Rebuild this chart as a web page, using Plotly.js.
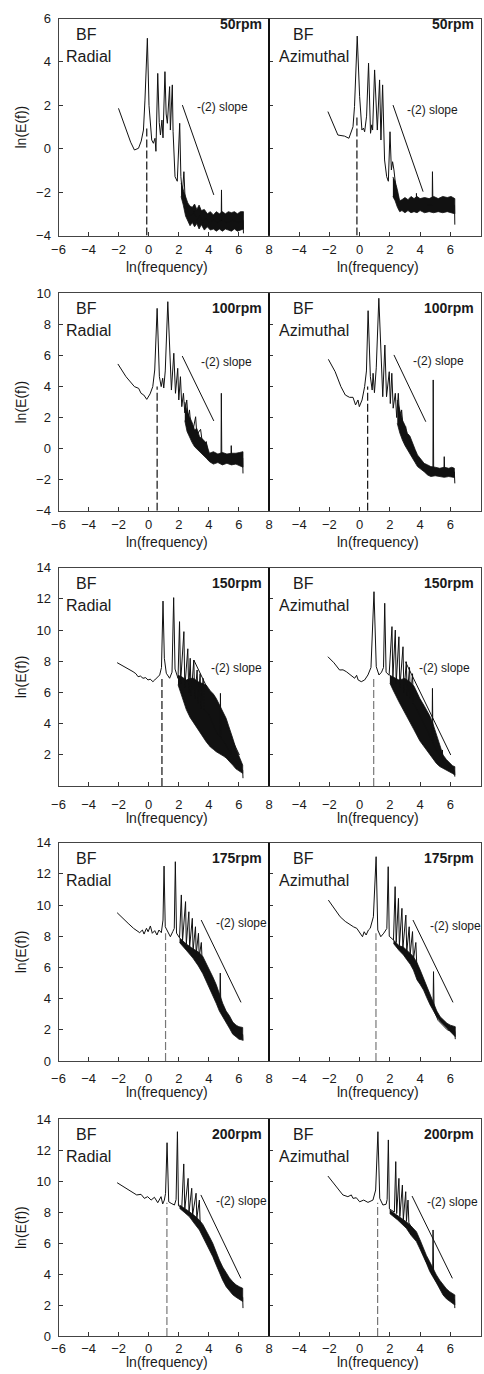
<!DOCTYPE html>
<html><head><meta charset="utf-8">
<script src="https://cdn.plot.ly/plotly-3.0.1.min.js"></script>
<style>html,body{margin:0;padding:0;background:#fff}#chart{width:484px;height:1374px}</style>
</head><body><div id="chart"></div>
<script>
// ---------------- DATA ----------------
const speeds = ['50rpm', '100rpm', '150rpm', '175rpm', '200rpm'];
const components = ['Radial', 'Azimuthal'];
const xTickVals = [-6, -4, -2, 0, 2, 4, 6, 8];
const yTickSets = [
  [-4, -2, 0, 2, 4, 6],
  [-4, -2, 0, 2, 4, 6, 8, 10],
  [2, 4, 6, 8, 10, 12, 14],
  [0, 2, 4, 6, 8, 10, 12, 14],
  [0, 2, 4, 6, 8, 10, 12, 14]
];
const yRanges = [[-4, 6], [-4, 10], [0, 14], [0, 14], [0, 14]];
const xRange = [-6, 8];

// 50 rpm radial
const rad50_x = [-2.01,-1.7,-1.46,-1.2,-0.95,-0.68,-0.5,-0.35,-0.25,-0.09,0.02,0.2,0.31,0.42,0.48,0.6,0.7,0.78,0.88,0.95,1.08,1.16,1.24,1.39,1.44,1.57,1.62,1.75,1.9,2.06,2.14,2.24,2.34,2.42,2.6,2.8,3.0,3.2,3.4,3.6,3.8,4.0,4.3,4.6,4.82,4.84,4.86,5.2,5.6,6.0,6.28,6.3];
const rad50_y = [1.86,1.25,0.71,0.3,-0.06,0.02,0.35,0.86,2.24,5.09,2.0,0.4,0.25,0.48,-0.12,3.47,1.2,0.63,1.32,0.5,3.55,1.6,1.17,2.86,0.86,2.94,0.8,-1.29,-1.5,1.17,-1.29,-2.05,-1.06,-2.3,-2.9,-3.1,-2.9,-3.3,-3.1,-3.4,-3.2,-3.4,-3.3,-3.4,-3.3,-1.9,-3.3,-3.4,-3.3,-3.4,-3.3,-3.9];
const rad50_bandX = [2.15,2.3,2.45,2.6,2.75,2.9,3.05,3.2,3.35,3.5,3.7,3.9,4.1,4.3,4.5,4.7,4.9,5.1,5.3,5.5,5.7,5.9,6.1,6.3];
const rad50_bandHi = [-1.6,-1.9,-2.3,-2.5,-2.65,-2.7,-2.55,-2.8,-2.6,-2.85,-2.8,-3.0,-2.9,-3.05,-2.9,-3.0,-2.9,-3.0,-2.9,-2.95,-2.9,-3.0,-2.9,-2.9];
const rad50_bandLo = [-2.2,-2.6,-3.1,-3.35,-3.55,-3.4,-3.6,-3.45,-3.7,-3.5,-3.75,-3.6,-3.75,-3.7,-3.8,-3.7,-3.8,-3.7,-3.75,-3.8,-3.7,-3.8,-3.75,-3.7];

// 50 rpm azimuthal
const azi50_x = [-2.1,-1.44,-1.0,-0.71,-0.44,-0.34,-0.16,0.0,0.15,0.25,0.33,0.46,0.59,0.72,0.8,0.86,0.99,1.17,1.32,1.41,1.52,1.65,1.79,1.9,2.01,2.1,2.18,2.27,2.4,2.6,2.8,3.0,3.3,3.6,3.74,3.76,3.78,4.1,4.5,4.8,4.82,4.85,5.2,5.6,6.0,6.28,6.3];
const azi50_y = [1.71,0.63,0.58,0.48,1.01,1.94,5.19,2.4,0.86,0.95,0.78,1.5,3.94,0.71,1.1,0.86,3.63,0.86,3.17,0.4,2.94,-0.52,-1.29,-1.5,0.78,-0.98,-0.6,-0.98,-1.8,-2.4,-2.7,-2.55,-2.6,-2.5,-2.6,-2.06,-2.6,-2.55,-2.6,-2.6,-1.06,-2.6,-2.55,-2.6,-2.55,-2.6,-3.5];
const azi50_bandX = [2.2,2.35,2.5,2.65,2.8,3.0,3.2,3.4,3.6,3.8,4.0,4.3,4.6,4.9,5.2,5.5,5.8,6.05,6.3];
const azi50_bandHi = [-1.3,-1.5,-1.9,-2.4,-2.35,-2.25,-2.35,-2.2,-2.3,-2.2,-2.3,-2.25,-2.3,-2.2,-2.3,-2.2,-2.25,-2.2,-2.3];
const azi50_bandLo = [-2.2,-2.4,-2.7,-2.9,-2.85,-2.95,-2.85,-2.95,-2.9,-2.95,-2.85,-2.95,-2.9,-2.95,-2.9,-2.95,-2.9,-2.95,-3.0];

// 100 rpm radial
const rad100_x = [-2.05,-1.51,-0.95,-0.67,-0.51,-0.33,-0.13,0.09,0.27,0.4,0.56,0.71,0.83,0.93,1.0,1.1,1.27,1.43,1.51,1.67,1.78,1.93,2.0,2.11,2.2,2.31,2.4,2.53,2.62,2.71,2.8,2.95,3.12,3.2,3.45,3.55,3.7,3.83,3.95,4.3,4.6,4.81,4.83,4.86,5.2,5.47,5.49,5.52,5.9,6.25,6.27];
const rad100_y = [5.45,4.63,3.99,3.88,3.56,3.45,3.17,3.52,3.99,5.06,9.03,4.63,3.99,4.53,3.9,5.0,9.46,5.06,3.77,6.14,3.56,5.17,3.13,4.63,2.7,3.56,2.3,3.13,1.9,2.49,1.5,1.2,2.05,0.9,1.24,0.5,0.3,0.45,-0.4,-0.55,-0.65,-0.6,3.56,-0.6,-0.65,-0.6,0.19,-0.6,-0.65,-0.6,-1.6];
const rad100_bandX = [2.4,2.55,2.71,2.88,3.05,3.2,3.38,3.6,3.83,4.04,4.3,4.6,4.9,5.2,5.5,5.8,6.05,6.27];
const rad100_bandHi = [3.0,2.4,2.05,1.7,1.2,1.3,0.77,0.6,0.34,-0.3,-0.2,-0.35,-0.25,-0.35,-0.3,-0.3,-0.25,-0.2];
const rad100_bandLo = [1.8,1.1,0.77,0.4,0.12,0.0,-0.2,-0.4,-0.62,-0.84,-1.0,-0.9,-1.05,-0.95,-1.05,-1.0,-1.1,-1.2];

// 100 rpm azimuthal
const azi100_x = [-2.07,-1.62,-1.24,-0.95,-0.67,-0.44,-0.27,-0.11,-0.02,0.16,0.33,0.45,0.56,0.71,0.83,0.89,0.98,1.1,1.27,1.45,1.53,1.67,1.78,1.96,2.03,2.13,2.22,2.36,2.45,2.56,2.66,2.78,2.9,3.05,3.12,3.2,3.3,3.49,3.67,3.8,4.3,4.85,4.87,4.9,5.3,5.58,5.6,5.63,6.0,6.27,6.3];
const azi100_y = [5.75,4.95,3.99,3.45,3.3,3.3,2.81,3.13,2.7,3.13,3.99,5.0,8.88,4.63,3.77,4.85,3.6,5.2,9.68,4.63,3.34,6.67,3.34,4.95,2.9,4.85,2.6,3.56,2.0,3.56,1.6,2.49,1.0,1.41,0.6,0.9,0.2,0.0,-0.3,-0.8,-1.3,-1.4,4.42,-1.4,-1.5,-1.4,-0.52,-1.4,-1.5,-1.5,-2.24];
const azi100_bandX = [2.49,2.66,2.83,3.0,3.16,3.33,3.49,3.67,3.83,4.05,4.27,4.5,4.71,5.0,5.3,5.6,5.9,6.1,6.27];
const azi100_bandHi = [3.13,2.4,1.84,1.5,0.98,0.8,0.34,-0.05,-0.41,-0.7,-0.95,-1.05,-1.16,-1.2,-1.27,-1.2,-1.27,-1.2,-1.27];
const azi100_bandLo = [1.63,1.0,0.55,0.2,-0.09,-0.35,-0.62,-0.9,-1.16,-1.35,-1.49,-1.7,-1.8,-1.75,-1.8,-1.85,-1.8,-1.85,-1.86];

// 150 rpm radial
const rad150_x = [-2.1,-1.5,-1.04,-0.85,-0.71,-0.55,-0.38,-0.2,-0.05,0.1,0.28,0.4,0.51,0.73,0.85,0.95,1.04,1.17,1.39,1.55,1.66,1.75,1.95,2.05,2.12,2.34,2.4,2.6,2.66,2.76,2.82,3.0,3.06,3.22,3.28,3.42,3.48,3.62,3.7,4.0,4.3,4.6,4.75,4.77,4.8,5.1,5.46,5.48,5.5,5.8,6.1,6.25,6.27];
const rad150_y = [7.91,7.6,7.33,7.2,7.01,7.05,6.91,6.95,6.8,6.85,6.69,6.8,6.91,7.12,7.6,11.86,8.19,7.23,6.91,7.3,12.08,7.5,6.9,10.54,6.6,9.9,6.3,8.8,6.0,8.19,5.8,8.08,5.6,7.44,5.3,7.2,5.0,6.9,4.9,4.6,3.9,3.3,3.2,5.94,3.1,2.7,2.0,2.52,1.9,1.6,1.2,1.0,0.5];
const rad150_bandX = [1.95,2.2,2.5,2.75,3.0,3.25,3.5,3.82,4.1,4.3,4.49,4.65,4.8,5.0,5.15,5.3,5.45,5.59,5.8,6.03,6.25];
const rad150_bandHi = [7.1,7.0,6.8,6.9,6.9,6.7,6.6,6.48,6.1,5.9,5.62,5.3,5.0,4.6,4.34,3.9,3.5,3.06,2.4,1.8,1.34];
const rad150_bandLo = [6.5,5.7,4.9,4.4,4.0,3.6,3.3,2.84,2.5,2.35,2.2,2.1,2.0,1.9,1.8,1.65,1.5,1.34,1.1,0.95,0.81];

// 150 rpm azimuthal
const azi150_x = [-2.1,-1.7,-1.33,-1.1,-0.88,-0.7,-0.55,-0.33,-0.2,-0.1,0.11,0.33,0.55,0.75,0.95,1.1,1.28,1.45,1.58,1.66,1.75,1.95,2.14,2.2,2.36,2.42,2.6,2.66,2.87,2.93,3.09,3.15,3.3,3.36,3.5,3.56,3.8,4.1,4.4,4.7,4.79,4.82,4.85,5.1,5.46,5.48,5.5,5.8,6.1,6.28,6.3];
const azi150_y = [8.29,7.9,7.44,7.45,7.33,7.2,7.12,6.91,7.1,6.8,6.69,6.8,7.12,7.6,12.46,7.65,7.12,7.3,7.6,11.72,7.3,7.1,10.22,6.9,10.0,6.6,9.57,6.3,8.93,6.0,7.97,5.8,7.6,5.6,7.2,5.3,4.9,4.3,3.6,3.1,2.9,6.26,2.8,2.3,1.7,2.31,1.6,1.3,1.1,1.0,0.6];
const azi150_bandX = [2.0,2.21,2.6,3.0,3.31,3.6,3.98,4.3,4.64,4.85,5.08,5.3,5.52,5.74,5.96,6.15,6.3];
const azi150_bandHi = [7.1,7.0,6.8,6.9,6.69,6.4,5.62,5.1,4.5,4.0,3.27,2.6,1.99,1.7,1.45,1.3,1.24];
const azi150_bandLo = [6.6,6.16,5.4,4.66,4.1,3.6,2.9,2.45,2.0,1.75,1.45,1.25,1.1,1.02,0.9,0.8,0.7];

// 175 rpm radial
const rad175_x = [-2.1,-1.7,-1.37,-1.0,-0.6,-0.42,-0.31,-0.15,-0.04,0.11,0.24,0.4,0.55,0.68,0.84,0.95,1.02,1.1,1.28,1.44,1.6,1.7,1.77,1.85,2.05,2.17,2.25,2.45,2.5,2.67,2.72,2.9,2.95,3.11,3.16,3.31,3.36,3.5,3.55,3.8,4.1,4.4,4.72,4.76,4.8,5.1,5.4,5.7,6.0,6.25,6.27];
const rad175_y = [9.51,9.1,8.83,8.5,8.23,8.4,8.14,8.51,8.29,8.66,8.19,8.36,8.08,8.4,8.23,9.04,12.5,8.61,8.29,7.97,8.3,8.5,12.78,8.2,7.9,10.65,7.7,10.22,7.5,9.57,7.3,9.15,7.1,8.61,6.9,8.19,6.7,7.6,6.5,5.9,5.0,4.2,3.4,5.64,3.3,2.7,2.3,1.9,1.7,1.7,1.3];
const rad175_bandX = [2.05,2.5,2.94,3.3,3.6,3.82,4.04,4.26,4.49,4.7,4.92,5.15,5.37,5.59,5.81,6.0,6.25];
const rad175_bandHi = [7.9,7.5,7.2,7.0,6.7,6.3,5.9,5.4,4.9,4.3,3.7,3.2,2.9,2.5,2.3,2.2,2.15];
const rad175_bandLo = [7.6,7.1,6.6,6.1,5.6,5.2,4.7,4.2,3.7,3.2,2.8,2.45,2.1,1.72,1.55,1.4,1.34];

// 175 rpm azimuthal
const azi175_x = [-2.07,-1.6,-1.29,-0.95,-0.63,-0.4,-0.19,0.03,0.19,0.3,0.43,0.58,0.7,0.91,1.09,1.2,1.4,1.6,1.8,1.89,1.96,2.24,2.35,2.42,2.57,2.63,2.8,2.86,3.06,3.12,3.28,3.34,3.5,3.56,3.72,3.78,4.1,4.4,4.7,4.86,4.89,4.93,5.2,5.5,5.8,6.1,6.3,6.33];
const azi175_y = [10.32,9.7,9.25,8.95,8.72,8.6,8.51,8.19,7.97,8.29,8.08,8.4,8.51,9.25,13.1,8.4,7.97,8.2,8.5,12.46,8.0,7.76,11.18,7.6,10.43,7.4,9.79,7.2,9.36,7.0,8.61,6.8,8.3,6.5,7.6,6.2,5.4,4.6,3.8,3.4,5.73,3.2,2.6,2.3,2.0,1.9,1.9,1.4];
const azi175_bandX = [2.24,2.6,2.9,3.12,3.35,3.56,3.8,4.01,4.23,4.45,4.67,4.89,5.11,5.33,5.55,5.78,6.0,6.33];
const azi175_bandHi = [7.76,7.4,7.3,7.12,6.9,6.69,6.3,5.83,5.3,4.76,4.2,3.7,3.2,2.84,2.6,2.42,2.3,2.2];
const azi175_bandLo = [7.54,7.1,6.8,6.5,6.2,5.83,5.2,4.9,4.55,4.05,3.59,3.2,2.84,2.55,2.31,2.1,1.88,1.56];

// 200 rpm radial
const rad200_x = [-2.1,-1.5,-1.06,-0.8,-0.51,-0.29,-0.07,0.16,0.38,0.6,0.82,0.93,1.04,1.12,1.22,1.33,1.49,1.71,1.82,1.91,1.98,2.2,2.33,2.4,2.62,2.68,2.86,2.92,3.15,3.2,3.37,3.42,3.7,4.0,4.3,4.6,4.9,5.2,5.5,5.8,6.1,6.25,6.27];
const rad200_y = [9.89,9.53,9.21,9.1,9.14,8.88,8.99,8.77,8.95,8.6,8.99,8.52,8.77,9.2,12.47,8.66,8.56,8.45,8.8,13.18,8.4,8.3,11.1,8.2,10.17,8.0,9.53,7.8,9.21,7.6,8.77,7.3,6.9,6.2,5.5,4.7,4.0,3.4,3.0,2.7,2.6,2.5,1.8];
const rad200_bandX = [2.05,2.4,2.71,3.0,3.37,3.6,3.82,4.04,4.26,4.48,4.7,4.92,5.15,5.37,5.59,5.81,6.03,6.25];
const rad200_bandHi = [8.45,8.25,8.02,7.8,7.48,7.2,6.84,6.4,5.98,5.4,4.9,4.45,4.05,3.75,3.5,3.3,3.18,3.08];
const rad200_bandLo = [8.24,7.95,7.69,7.3,6.84,6.4,5.98,5.55,5.12,4.6,4.05,3.6,3.18,2.9,2.66,2.5,2.34,2.23];

// 200 rpm azimuthal
const azi200_x = [-2.1,-1.8,-1.54,-1.11,-0.78,-0.55,-0.44,-0.22,0.0,0.27,0.55,0.88,1.06,1.21,1.33,1.54,1.75,1.82,1.9,1.97,2.3,2.39,2.45,2.6,2.66,2.83,2.89,3.05,3.1,3.2,3.26,3.5,3.8,4.1,4.4,4.7,4.83,4.86,4.9,5.2,5.5,5.8,6.1,6.28,6.3];
const azi200_y = [10.32,9.95,9.63,9.1,8.99,9.1,8.88,8.92,8.66,8.77,8.62,8.77,9.42,13.18,8.88,8.45,8.5,8.8,12.65,8.2,8.0,11.25,7.9,10.17,7.7,9.74,7.5,9.31,7.4,8.77,7.3,6.9,6.3,5.5,4.8,4.2,3.9,6.84,3.8,3.3,2.9,2.6,2.4,2.35,1.8];
const azi200_bandX = [1.99,2.5,3.09,3.4,3.76,4.0,4.2,4.42,4.64,4.86,5.08,5.3,5.52,5.74,5.96,6.15,6.3];
const azi200_bandHi = [8.13,7.8,7.37,7.1,6.73,6.2,5.66,5.2,4.79,4.35,3.94,3.6,3.29,3.05,2.86,2.75,2.65];
const azi200_bandLo = [7.9,7.5,6.95,6.5,6.09,5.6,5.23,4.7,4.17,3.8,3.44,3.0,2.65,2.4,2.22,2.1,2.0];

// fundamental-frequency marker (dashed) and -(2) reference slope, panel order:
// 50R, 50A, 100R, 100A, 150R, 150A, 175R, 175A, 200R, 200A
const dashX   = [-0.13, -0.18, 0.56, 0.53, 0.88, 0.93, 1.12, 1.08, 1.21, 1.19];
const dashTop = [1.0, 1.5, 4.0, 4.0, 7.0, 7.0, 8.2, 8.2, 8.6, 8.6];
const slopeX0 = [2.24, 2.21, 2.23, 2.27, 3.0, 3.03, 3.49, 3.53, 3.47, 3.47];
const slopeY0 = [2.01, 2.01, 5.96, 6.03, 8.08, 7.97, 9.04, 9.04, 9.1, 9.03];
const slopeX1 = [4.33, 4.2, 4.33, 4.38, 6.03, 6.03, 6.14, 6.18, 6.13, 6.14];
const slopeY1 = [-2.13, -1.98, 1.78, 1.73, 1.99, 1.99, 3.76, 3.76, 3.72, 3.72];

// ---------------- LAYOUT / STYLE ----------------
const panels = [
  [rad50_x, rad50_y, rad50_bandX, rad50_bandHi, rad50_bandLo],
  [azi50_x, azi50_y, azi50_bandX, azi50_bandHi, azi50_bandLo],
  [rad100_x, rad100_y, rad100_bandX, rad100_bandHi, rad100_bandLo],
  [azi100_x, azi100_y, azi100_bandX, azi100_bandHi, azi100_bandLo],
  [rad150_x, rad150_y, rad150_bandX, rad150_bandHi, rad150_bandLo],
  [azi150_x, azi150_y, azi150_bandX, azi150_bandHi, azi150_bandLo],
  [rad175_x, rad175_y, rad175_bandX, rad175_bandHi, rad175_bandLo],
  [azi175_x, azi175_y, azi175_bandX, azi175_bandHi, azi175_bandLo],
  [rad200_x, rad200_y, rad200_bandX, rad200_bandHi, rad200_bandLo],
  [azi200_x, azi200_y, azi200_bandX, azi200_bandHi, azi200_bandLo]
];
const slopeLabelPos = [[3.05,1.9],[2.97,1.78],[3.35,5.6],[3.38,5.66],[4.0,7.55],[3.82,7.55],[4.33,8.83],[4.5,8.66],[4.33,8.73],[4.31,8.63]];
const dashColor = ['#111','#111','#111','#111','#111','#777','#777','#777','#777','#777'];

const W = 484, H = 1374;
const PX = v => v / W, PY = v => 1 - v / H;
const colEdges = [[58.5, 269], [269, 480.5]];
const rowEdges = [[18.5, 235.5], [293.3, 510.7], [567.7, 786], [842.7, 1061], [1119, 1336]];
const xLabStand = [2, 2, 6, 5, 0];
const xTitleOff = [31, 31, 32, 30.7, 25.5];
const FONT = '"Liberation Sans", Arial, Helvetica, sans-serif';
const INK = '#1a1a1a';

const traces = [];
const layout = {
  width: W, height: H, margin: {l: 0, r: 0, t: 0, b: 0},
  paper_bgcolor: '#fff', plot_bgcolor: '#fff', showlegend: false,
  font: {family: FONT, color: INK, size: 13},
  annotations: [], shapes: []
};

panels.forEach((p, i) => {
  const r = Math.floor(i / 2), c = i % 2;
  const s = i === 0 ? '' : String(i + 1);
  const xa = 'x' + s, ya = 'y' + s;
  const [lx, ly, bx, hi, lo] = p;
  const ymin = yRanges[r][0];

  traces.push({x: bx.concat(bx.slice().reverse()), y: hi.concat(lo.slice().reverse()),
    xaxis: xa, yaxis: ya, mode: 'lines', fill: 'toself', fillcolor: '#111',
    line: {color: '#111', width: 0.8}, hoverinfo: 'skip'});
  traces.push({x: lx, y: ly, xaxis: xa, yaxis: ya, mode: 'lines',
    line: {color: '#111', width: 1}, hoverinfo: 'skip'});
  traces.push({x: [dashX[i], dashX[i]], y: [ymin, dashTop[i]], xaxis: xa, yaxis: ya, mode: 'lines',
    line: {color: dashColor[i], width: 1.2, dash: '8px,3px'}, hoverinfo: 'skip'});
  traces.push({x: [slopeX0[i], slopeX1[i]], y: [slopeY0[i], slopeY1[i]], xaxis: xa, yaxis: ya, mode: 'lines',
    line: {color: '#111', width: 1}, hoverinfo: 'skip'});

  layout['xaxis' + s] = {
    domain: [PX(colEdges[c][0]), PX(colEdges[c][1])], range: xRange, anchor: ya,
    tickmode: 'array', tickvals: c === 0 ? xTickVals : xTickVals.slice(1),
    ticks: 'inside', ticklen: 4, tickwidth: 1, tickcolor: '#333',
    showline: true, linecolor: '#444', linewidth: 1, mirror: true,
    showgrid: false, zeroline: false, ticklabelstandoff: xLabStand[r],
    tickfont: {family: FONT, size: 13, color: INK}, fixedrange: true
  };
  layout['yaxis' + s] = {
    domain: [PY(rowEdges[r][1]), PY(rowEdges[r][0])], range: yRanges[r], anchor: xa,
    tickmode: 'array', tickvals: yTickSets[r], showticklabels: c === 0,
    ticks: 'inside', ticklen: 4, tickwidth: 1, tickcolor: '#333',
    showline: true, linecolor: '#444', linewidth: 1, mirror: true,
    showgrid: false, zeroline: false, ticklabelstandoff: 4,
    tickfont: {family: FONT, size: 13, color: INK}, fixedrange: true
  };

  const top = rowEdges[r][0], bot = rowEdges[r][1];
  const L = colEdges[c][0], R = colEdges[c][1];
  const ann = layout.annotations;
  ann.push({text: 'BF', xref: 'paper', yref: 'paper', x: PX(L + (c === 0 ? 15 : 22)), y: PY(top + 15.5),
    xanchor: 'left', yanchor: 'middle', showarrow: false, font: {size: 16, color: INK}});
  ann.push({text: components[c], xref: 'paper', yref: 'paper', x: PX(L + (c === 0 ? 5 : 8)), y: PY(top + 37.5),
    xanchor: 'left', yanchor: 'middle', showarrow: false, font: {size: 16, color: INK}});
  ann.push({text: '<b>' + speeds[r] + '</b>', xref: 'paper', yref: 'paper', x: PX(R - 5), y: PY(top + (r === 0 ? 6 : 15)),
    xanchor: 'right', yanchor: 'middle', showarrow: false, font: {size: 14, color: INK}});
  ann.push({text: '-(2) slope', xref: xa, yref: ya, x: slopeLabelPos[i][0], y: slopeLabelPos[i][1],
    xanchor: 'left', yanchor: 'middle', showarrow: false, font: {size: 12, color: INK}});
  ann.push({text: 'ln(frequency)', xref: 'paper', yref: 'paper', x: PX((L + R) / 2 + 3), y: PY(bot + xTitleOff[r]),
    xanchor: 'center', yanchor: 'middle', showarrow: false, borderpad: 0, font: {size: 14, color: INK}});
  if (c === 0) {
    ann.push({text: 'ln(E(f))', xref: 'paper', yref: 'paper', x: PX(20.5), y: PY((top + bot) / 2),
      xanchor: 'center', yanchor: 'middle', textangle: -90, showarrow: false, font: {size: 14, color: INK}});
    layout.shapes.push({type: 'line', xref: 'paper', yref: 'paper', x0: PX(269), x1: PX(269),
      y0: PY(bot), y1: PY(top), line: {color: '#111', width: 2}});
  }
});

Plotly.newPlot('chart', traces, layout, {staticPlot: true, displayModeBar: false});
</script>
</body></html>
